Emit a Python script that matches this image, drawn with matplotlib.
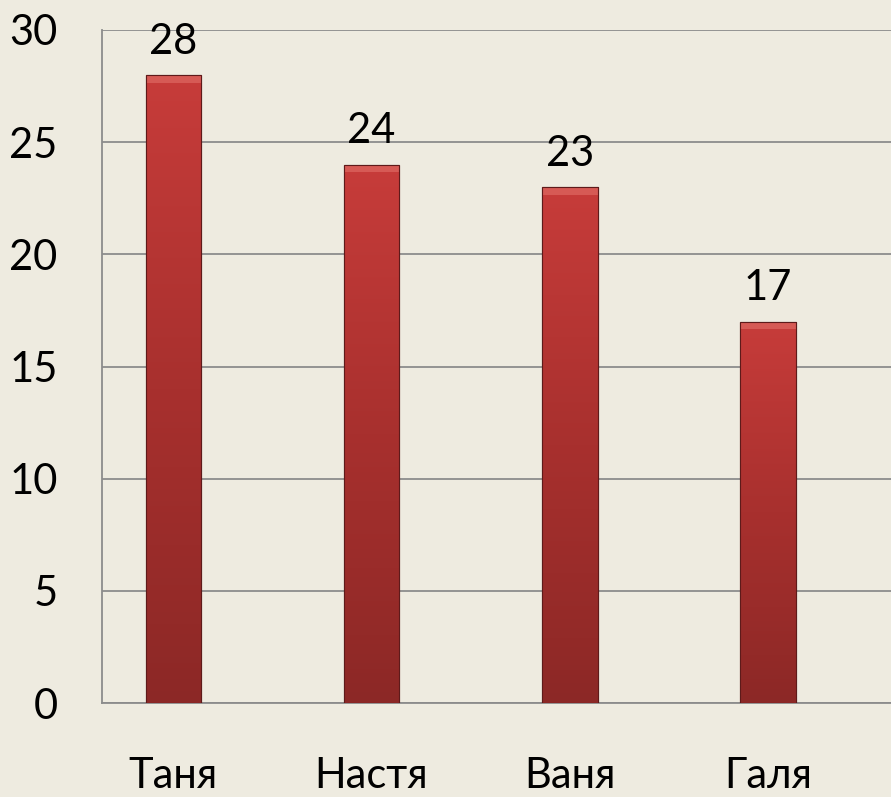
import numpy as np
import matplotlib
matplotlib.use("Agg")
import matplotlib.pyplot as plt
from matplotlib.colors import LinearSegmentedColormap

names = ["Таня", "Настя", "Ваня", "Галя"]
values = [28, 24, 23, 17]
yticks = [0, 5, 10, 15, 20, 25, 30]

plt.rcParams['font.family'] = ['Lato', 'DejaVu Sans']
bg = "#EEEBE0"

fig = plt.figure(figsize=(8.91, 7.97), dpi=100, facecolor=bg)
ax = fig.add_axes([0.1145, 0.1179, 0.8855, 0.8445], facecolor=bg)

x = np.arange(len(names))
bars = ax.bar(x, values, width=0.28, color="#B33532", edgecolor="#5E1A1A",
              linewidth=0.8, zorder=3)

# вертикальный градиент внутри столбцов
cmap = LinearSegmentedColormap.from_list("redgrad", ["#8C2826", "#A8302E", "#C73C3A"])
grad = np.linspace(0, 1, 256).reshape(-1, 1)
for b in bars:
    x0, w, h = b.get_x(), b.get_width(), b.get_height()
    im = ax.imshow(grad, cmap=cmap, origin="lower", aspect="auto",
                   extent=[x0, x0 + w, 0, h], zorder=3.5)
    im.set_clip_path(b)
    # светлая фаска сверху
    ax.fill_between([x0, x0 + w], h - 0.35, h, color="#D65A55", zorder=3.6, lw=0)
    ax.bar(b.get_x() + w / 2, h, width=w, fill=False, edgecolor="#5E1A1A",
           linewidth=0.8, zorder=4)
    ax.text(x0 + w / 2, h + 0.95, f"{h:g}", ha="center", va="baseline",
            fontsize=30, color="black", zorder=5)

ax.set_xlim(-0.36, 3.62)
ax.set_ylim(0, 30)
ax.set_yticks(yticks)
ax.set_xticks(x)
ax.set_xticklabels(names)
ax.tick_params(axis="both", length=0, labelsize=30, colors="black")
ax.tick_params(axis="x", pad=39)
ax.tick_params(axis="y", pad=32)

ax.yaxis.grid(True, color="#8C8C8C", linewidth=1.3, zorder=1)
ax.set_axisbelow(True)
for s in ["top", "right"]:
    ax.spines[s].set_visible(False)
for s in ["left", "bottom"]:
    ax.spines[s].set_color("#8C8C8C")
    ax.spines[s].set_linewidth(1.3)

fig.savefig("out.png", dpi=100, facecolor=bg)
